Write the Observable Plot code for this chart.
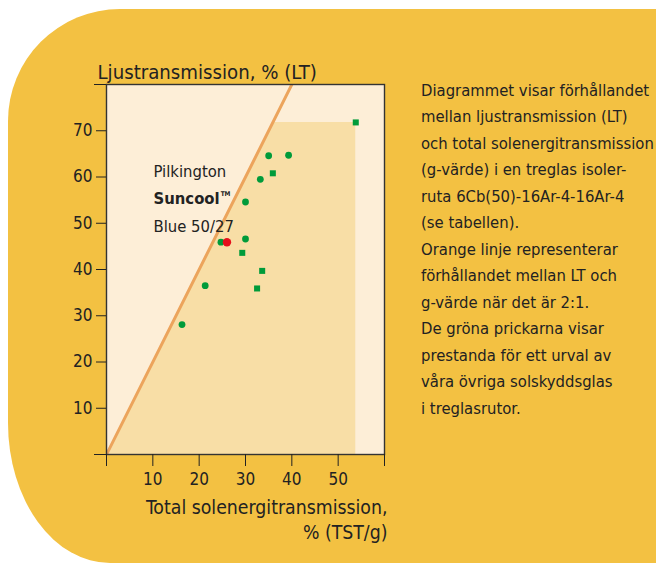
<!DOCTYPE html>
<html><head><meta charset="utf-8">
<script src="https://cdn.jsdelivr.net/npm/d3@7"></script>
<script src="https://cdn.jsdelivr.net/npm/@observablehq/plot@0.6"></script>
<style>
html,body{margin:0;padding:0;width:656px;height:563px;overflow:hidden;background:#fff;font-family:"DejaVu Sans Condensed","DejaVu Sans",sans-serif;}
#panel{position:absolute;left:8px;top:8.5px;width:720px;height:554.5px;background:#f3c142;border-top-left-radius:112px;border-bottom-left-radius:102px 140px;}
#chart svg{position:absolute;left:0;top:0;}
#note{position:absolute;left:421px;top:77.7px;font-size:16.5px;line-height:26.5px;color:#222;white-space:nowrap;}
</style></head><body>
<div id="panel"></div><div id="chart"></div><div id="note"></div>
<script>
// ---- data ----
const yTitle = "Ljustransmission, % (LT)";
const xTitle = "Total solenergitransmission,\n% (TST/g)";
const xTicks = [0, 10, 20, 30, 40, 50, 60];
const xTickLabels = ["", "10", "20", "30", "40", "50", ""];
const yTicks = [10, 20, 30, 40, 50, 60, 70];
const yEnds = [0, 80];
// green circles: g-value (TST) and LT
const circleG  = [35.0, 39.3, 33.2, 30.0, 30.0, 24.7, 21.3, 16.3];
const circleLT = [64.6, 64.7, 59.5, 54.6, 46.6, 45.9, 36.5, 28.1];
// green squares
const squareG  = [53.8, 35.9, 29.3, 33.6, 32.5];
const squareLT = [71.8, 60.8, 43.6, 39.7, 35.9];
// Pilkington Suncool Blue 50/27
const suncoolG  = [26.0];
const suncoolLT = [45.9];
// 2:1 reference line (LT = 2 × g)
const ratioG = [0, 45];
const ratio = 2;
const productLines = ["Pilkington", "Suncool", "Blue 50/27"];
const noteLines = [
  "Diagrammet visar förhållandet",
  "mellan ljustransmission (LT)",
  "och total solenergitransmission",
  "(g-värde) i en treglas isoler-",
  "ruta 6Cb(50)-16Ar-4-16Ar-4",
  "(se tabellen).",
  "Orange linje representerar",
  "förhållandet mellan LT och",
  "g-värde när det är 2:1.",
  "De gröna prickarna visar",
  "prestanda för ett urval av",
  "våra övriga solskyddsglas",
  "i treglasrutor."
];

// ---- build ----
const circles = circleG.map((g, i) => ({g, lt: circleLT[i]}));
const squares = squareG.map((g, i) => ({g, lt: squareLT[i]}));
const suncool = suncoolG.map((g, i) => ({g, lt: suncoolLT[i]}));
const refLine = ratioG.map(g => ({g, lt: ratio * g}));
const all = circles.concat(squares);
const maxG = d3.max(all, d => d.g), maxLT = d3.max(all, d => d.lt);
// region under the 2:1 line, bounded by the best performers
const zone = [0, maxLT / ratio, maxG].map(g => ({g, lt: Math.min(ratio * g, maxLT)}));

const ink = "#222";
const font = "'DejaVu Sans Condensed', 'DejaVu Sans', sans-serif";
const green = "#009b3a";

const chart = Plot.plot({
  width: 390,
  height: 563,
  marginLeft: 106,
  marginTop: 84,
  marginRight: 6,
  marginBottom: 109,
  style: {background: "transparent", fontFamily: font, color: ink, overflow: "visible"},
  x: {domain: [0, 60]},
  y: {domain: [0, 80]},
  marks: [
    Plot.frame({fill: "#fdeed7", stroke: null}),
    Plot.areaY(zone, {x: "g", y1: 0, y2: "lt", fill: "#f8dea6", curve: "linear"}),
    Plot.line(refLine, {x: "g", y: "lt", stroke: "#eca45c", strokeWidth: 3, clip: "frame"}),
    Plot.dot(circles, {x: "g", y: "lt", r: 3.4, fill: green, symbol: "circle"}),
    Plot.dot(squares, {x: "g", y: "lt", r: 3.4, fill: green, symbol: "square"}),
    Plot.dot(suncool, {x: "g", y: "lt", r: 4.2, fill: "#e5101c", symbol: "circle"}),
    Plot.text([productLines[0]], {text: d => d, frameAnchor: "top-left", textAnchor: "start", lineAnchor: "top", dx: 47, dy: 81, fontSize: 16.5, fill: ink}),
    Plot.text([productLines[1]], {text: d => d, frameAnchor: "top-left", textAnchor: "start", lineAnchor: "top", dx: 47, dy: 108, fontSize: 16.5, fontWeight: "bold", fill: ink}),
    Plot.text([productLines[2]], {text: d => d, frameAnchor: "top-left", textAnchor: "start", lineAnchor: "top", dx: 47, dy: 136, fontSize: 16.5, fill: ink}),
    Plot.frame({stroke: "#333", strokeWidth: 1.4}),
    Plot.axisX(xTicks, {tickSize: 12, tickPadding: 6, tickFormat: (d, i) => xTickLabels[i], fontSize: 17, label: null, stroke: ink, fill: ink}),
    Plot.axisY(yTicks, {tickSize: 10, tickPadding: 4, fontSize: 17, label: null, stroke: ink, fill: ink}),
    Plot.axisY(yEnds, {tickSize: 12, tickFormat: () => "", label: null, stroke: ink}),
    Plot.text([yTitle], {text: d => d, frameAnchor: "top-left", textAnchor: "start", lineAnchor: "bottom", dx: -9, dy: -6, fontSize: 20.2, fill: ink}),
    Plot.text([xTitle], {text: d => d, frameAnchor: "bottom-right", textAnchor: "end", lineAnchor: "top", dx: 3, dy: 41, lineHeight: 1.32, fontSize: 19.3, fill: ink})
  ]
});

// superscript ™ after the bold product name
d3.select(chart).selectAll("text").filter(function () { return this.textContent === productLines[1]; })
  .append("tspan").attr("font-size", 6.5).attr("font-weight", "bold").attr("dy", "-1.3em").attr("dx", "1").text("TM");

document.getElementById("chart").appendChild(chart);
document.getElementById("note").innerHTML = noteLines.join("<br>");
</script>
</body></html>
